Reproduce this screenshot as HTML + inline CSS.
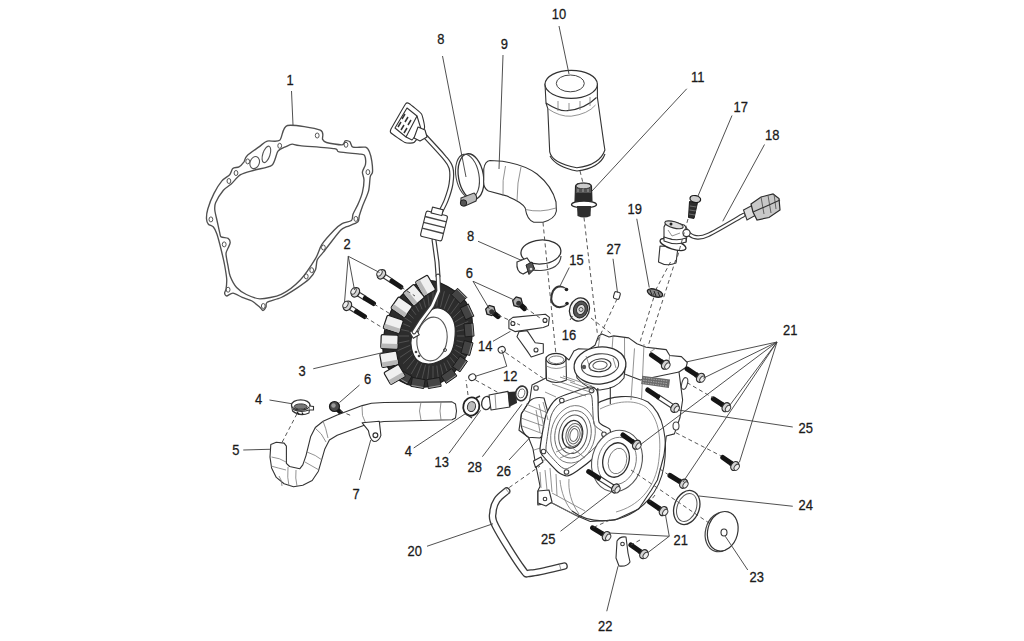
<!DOCTYPE html>
<html><head><meta charset="utf-8"><style>html,body{margin:0;padding:0;background:#fff;width:1024px;height:641px;overflow:hidden}svg{display:block}</style></head><body>
<svg width="1024" height="641" viewBox="0 0 1024 641">
<style>
.l{stroke:#3c3c3c;stroke-width:0.9;fill:none}
.d{stroke:#444;stroke-width:0.9;fill:none;stroke-dasharray:4 3}
.p{stroke:#333;stroke-width:1.1;fill:#fff;stroke-linejoin:round}
.q{stroke:#333;stroke-width:1.1;fill:none;stroke-linejoin:round}
.g{stroke:#777;stroke-width:0.8;fill:none}
.k{stroke:#505050;stroke-width:1.35;fill:none;stroke-linejoin:round}
.t{font-family:"Liberation Sans",sans-serif;font-size:15.4px;fill:#1a1a1a;stroke:#1a1a1a;stroke-width:0.3px}
</style>
<rect width="1024" height="641" fill="#fff"/>
<path class="k" d="M287.5,125.5 C292.9,124.2 315.6,128.3 320.3,130.2 C325.0,132.1 321.8,137.8 322.6,139.4 C323.4,141.0 323.9,141.8 326.5,142.5 C329.1,143.2 339.6,145.0 342.1,144.8 C344.6,144.6 344.2,141.3 345.2,140.9 C346.2,140.5 348.9,140.9 349.9,141.7 C350.9,142.5 350.9,146.5 353.0,147.2 C355.1,147.9 363.3,146.6 365.5,147.2 C367.7,147.8 368.6,149.9 369.4,151.8 C370.2,153.7 371.4,158.5 371.8,161.2 C372.2,163.9 372.7,170.0 372.5,172.1 C372.3,174.2 370.7,174.3 370.2,176.8 C369.7,179.3 369.6,186.9 368.6,190.8 C367.6,194.7 363.6,203.1 362.4,206.4 C361.2,209.7 359.9,213.7 359.3,215.8 C358.7,217.9 359.4,220.5 357.7,222.0 C356.0,223.5 349.1,225.6 346.8,226.7 C344.5,227.8 343.1,227.7 340.6,230.3 C338.1,232.9 330.4,243.1 328.1,246.0 C325.8,248.9 324.9,250.3 323.4,252.2 C321.9,254.1 318.2,257.7 317.2,260.0 C316.2,262.3 316.6,266.9 315.6,269.4 C314.6,271.9 311.9,276.3 309.4,278.8 C306.9,281.2 300.7,285.6 296.9,288.1 C293.1,290.6 285.2,295.6 281.2,297.5 C277.3,299.4 269.2,300.9 267.2,302.2 C265.2,303.5 266.6,305.9 266.0,307.0 C265.4,308.1 263.9,310.5 263.0,310.5 C262.1,310.5 261.1,308.3 259.6,307.0 C258.1,305.7 254.3,302.3 252.0,301.0 C249.7,299.7 244.7,298.5 242.2,297.4 C239.7,296.3 235.1,293.3 233.0,293.1 C230.9,292.9 227.8,296.0 226.7,296.0 C225.6,296.0 224.7,294.0 224.6,293.1 C224.5,292.2 225.7,290.9 226.0,289.0 C226.3,287.1 226.9,282.2 226.7,279.0 C226.5,275.8 225.3,268.9 224.6,265.0 C223.9,261.1 222.1,253.6 221.1,249.5 C220.1,245.4 217.9,237.0 216.9,234.0 C215.9,231.0 214.5,228.3 213.4,227.0 C212.3,225.7 209.3,225.3 208.4,224.2 C207.5,223.1 206.6,221.0 206.5,219.0 C206.4,217.0 206.8,212.4 207.8,209.0 C208.8,205.6 212.1,197.1 214.0,193.4 C215.9,189.7 219.8,183.4 221.9,180.9 C224.0,178.4 228.2,176.4 229.7,174.7 C231.2,173.0 231.6,169.4 232.8,168.4 C234.0,167.4 237.5,167.7 239.0,166.9 C240.5,166.1 242.7,163.7 243.8,162.2 C244.8,160.7 244.8,158.0 246.9,155.9 C249.0,153.8 256.7,148.6 259.4,146.6 C262.1,144.6 264.5,141.9 267.2,141.1 C269.9,140.3 277.0,142.4 279.7,140.3 C282.4,138.2 282.1,126.8 287.5,125.5 Z"/>
<path class="k" d="M292.2,144.2 C294.1,144.1 294.4,145.0 300.0,145.6 C305.6,146.2 329.1,147.9 334.3,148.7 C339.5,149.5 335.5,151.1 339.0,151.8 C342.5,152.5 357.4,153.7 360.8,154.2 C364.2,154.7 364.1,154.4 364.7,155.7 C365.3,157.0 365.8,162.1 365.5,164.3 C365.2,166.5 362.6,170.0 362.4,172.1 C362.2,174.2 364.0,177.2 364.0,179.9 C364.0,182.6 363.2,189.1 362.4,192.4 C361.6,195.7 359.0,202.0 357.7,204.9 C356.4,207.8 353.8,212.1 353.0,214.2 C352.2,216.3 353.0,219.2 351.5,220.5 C350.0,221.8 344.4,222.3 342.1,223.6 C339.8,224.9 337.0,227.2 334.3,230.0 C331.6,232.8 324.4,240.6 321.9,244.4 C319.4,248.2 318.5,253.6 315.6,258.4 C312.7,263.2 304.6,275.5 300.0,280.3 C295.4,285.1 286.6,291.9 281.2,294.4 C275.9,296.9 264.6,298.8 260.0,298.8 C255.4,298.8 249.5,296.0 246.4,294.5 C243.3,293.0 238.8,289.9 236.6,287.5 C234.4,285.1 231.3,279.1 230.2,276.3 C229.1,273.5 228.7,269.4 228.1,266.4 C227.5,263.4 226.0,256.2 226.0,253.8 C226.0,251.4 227.5,249.6 228.1,248.1 C228.7,246.6 230.2,243.8 230.2,242.5 C230.2,241.2 229.3,239.0 228.1,238.3 C226.9,237.6 222.2,237.6 221.1,236.9 C220.0,236.2 220.3,235.0 219.7,232.7 C219.1,230.4 217.6,223.0 216.9,220.0 C216.2,217.0 215.0,212.3 214.8,210.0 C214.6,207.7 214.5,205.4 215.6,202.8 C216.7,200.2 221.3,192.8 223.4,190.3 C225.5,187.8 229.0,186.1 231.2,184.0 C233.5,181.9 237.5,176.6 240.6,174.7 C243.7,172.8 250.5,171.3 254.7,170.0 C258.9,168.7 268.8,167.8 271.9,165.3 C275.0,162.8 276.1,153.7 278.0,151.2 C279.9,148.8 284.1,147.5 286.0,146.6 C287.9,145.7 290.3,144.3 292.2,144.2 Z"/>
<ellipse cx="317.2" cy="135.5" rx="1.9" ry="2.5" fill="none" stroke="#555" stroke-width="1"/>
<ellipse cx="346" cy="144.8" rx="1.9" ry="2.5" fill="none" stroke="#555" stroke-width="1"/>
<ellipse cx="367.9" cy="172.1" rx="1.9" ry="2.5" fill="none" stroke="#555" stroke-width="1"/>
<ellipse cx="355.85" cy="218.9" rx="1.9" ry="2.5" fill="none" stroke="#555" stroke-width="1"/>
<ellipse cx="279.7" cy="145.8" rx="1.9" ry="2.5" fill="none" stroke="#555" stroke-width="1"/>
<ellipse cx="247.7" cy="161.4" rx="1.9" ry="2.5" fill="none" stroke="#555" stroke-width="1"/>
<ellipse cx="236" cy="173" rx="1.9" ry="2.5" fill="none" stroke="#555" stroke-width="1"/>
<ellipse cx="228.9" cy="181" rx="1.9" ry="2.5" fill="none" stroke="#555" stroke-width="1"/>
<ellipse cx="210.9" cy="219.4" rx="1.9" ry="2.5" fill="none" stroke="#555" stroke-width="1"/>
<ellipse cx="224.2" cy="244.4" rx="1.9" ry="2.5" fill="none" stroke="#555" stroke-width="1"/>
<ellipse cx="228.1" cy="289.7" rx="1.9" ry="2.5" fill="none" stroke="#555" stroke-width="1"/>
<ellipse cx="263.3" cy="306" rx="1.9" ry="2.5" fill="none" stroke="#555" stroke-width="1"/>
<ellipse cx="306.25" cy="276.4" rx="1.9" ry="2.5" fill="none" stroke="#555" stroke-width="1"/>
<ellipse cx="311.7" cy="270.2" rx="1.9" ry="2.5" fill="none" stroke="#555" stroke-width="1"/>
<ellipse cx="323.4" cy="247.5" rx="1.9" ry="2.5" fill="none" stroke="#555" stroke-width="1"/>
<ellipse cx="254.7" cy="162.6" rx="4.6" ry="6.2" fill="none" stroke="#555" stroke-width="1.1" transform="rotate(20 254.7 162.6)"/>
<ellipse cx="266.4" cy="154.4" rx="3.6" ry="8.6" fill="none" stroke="#555" stroke-width="1.1" transform="rotate(18 266.4 154.4)"/>
<path d="M423.0,134.0 C426.5,137.8 439.3,151.3 444.0,157.0 C448.7,162.7 449.8,163.5 451.0,168.0 C452.2,172.5 451.8,178.4 451.0,183.8 C450.2,189.1 448.2,194.9 446.3,200.0 C444.4,205.1 440.5,211.8 439.3,214.2" fill="none" stroke="#3a3a3a" stroke-width="5" stroke-linejoin="round" stroke-linecap="round"/>
<path d="M423.0,134.0 C426.5,137.8 439.3,151.3 444.0,157.0 C448.7,162.7 449.8,163.5 451.0,168.0 C452.2,172.5 451.8,178.4 451.0,183.8 C450.2,189.1 448.2,194.9 446.3,200.0 C444.4,205.1 440.5,211.8 439.3,214.2" fill="none" stroke="#fff" stroke-width="2.6" stroke-linejoin="round" stroke-linecap="round"/>
<path d="M434.0,240.0 L437.0,262.0 L438.0,276.0" fill="none" stroke="#3a3a3a" stroke-width="5" stroke-linejoin="round" stroke-linecap="round"/>
<path d="M434.0,240.0 L437.0,262.0 L438.0,276.0" fill="none" stroke="#fff" stroke-width="2.6" stroke-linejoin="round" stroke-linecap="round"/>
<path class="p" d="M391.0,129.0 C392.0,127.1 404.3,105.7 405.5,104.0 C406.7,102.3 407.9,102.8 409.0,103.5 C410.1,104.2 420.5,112.4 421.5,114.0 C422.5,115.6 425.0,126.1 424.5,128.0 C424.0,129.9 415.3,141.5 414.0,142.5 C412.7,143.5 406.5,143.1 405.0,142.5 C403.5,141.9 391.9,133.9 391.0,133.0 C390.1,132.1 390.0,130.9 391.0,129.0 Z" stroke-width="1.3"/>
<path class="q" d="M395,128 L407,108 L417,116 L406,137 Z" stroke-width="1"/>
<path d="M398,127 L401,122 M401,130 L404,125 M404,133 L407,128 M402,119 L405,114 M405,122 L408,117 M408,125 L411,120" stroke="#333" stroke-width="1.5"/>
<path class="q" d="M417,116 L421,129 L412,140 L406,137" stroke-width="1"/>
<path class="p" d="M418,127 L425,130 L427,137 L420,141 L414,138 Z" stroke-width="1.1"/>
<g transform="rotate(14 434 226)"><rect x="423" y="213" width="22" height="26" rx="2" class="p"/><path d="M423,219 H445 M423,225 H445 M423,231 H445" stroke="#444" stroke-width="1.4"/><rect x="428" y="208" width="11" height="6" class="p"/></g>
<line x1="391.9" y1="281.1" x2="381.0" y2="274.0" stroke="#333" stroke-width="5.2"/>
<line x1="391.9" y1="281.1" x2="381.0" y2="274.0" stroke="#fff" stroke-width="3.0"/>
<line x1="400.8" y1="287.0" x2="391.9" y2="281.1" stroke="#151515" stroke-width="5.0" stroke-linecap="round"/>
<ellipse cx="381.4" cy="274.3" rx="3.8" ry="5.0" fill="#d4d4d4" stroke="#2a2a2a" stroke-width="1.3" transform="rotate(-146.6 381.4 274.3)"/>
<ellipse cx="379.5" cy="273.0" rx="2.2" ry="3.5" fill="#eee" stroke="#444" stroke-width="1" transform="rotate(-146.6 379.5 273.0)"/>
<line x1="365.2" y1="298.3" x2="355.0" y2="292.0" stroke="#333" stroke-width="5.2"/>
<line x1="365.2" y1="298.3" x2="355.0" y2="292.0" stroke="#fff" stroke-width="3.0"/>
<line x1="373.5" y1="303.5" x2="365.2" y2="298.3" stroke="#151515" stroke-width="5.0" stroke-linecap="round"/>
<ellipse cx="355.4" cy="292.3" rx="3.8" ry="5.0" fill="#d4d4d4" stroke="#2a2a2a" stroke-width="1.3" transform="rotate(-148.1 355.4 292.3)"/>
<ellipse cx="353.5" cy="291.0" rx="2.2" ry="3.5" fill="#eee" stroke="#444" stroke-width="1" transform="rotate(-148.1 353.5 291.0)"/>
<line x1="356.6" y1="311.6" x2="347.0" y2="305.5" stroke="#333" stroke-width="5.2"/>
<line x1="356.6" y1="311.6" x2="347.0" y2="305.5" stroke="#fff" stroke-width="3.0"/>
<line x1="364.5" y1="316.5" x2="356.6" y2="311.6" stroke="#151515" stroke-width="5.0" stroke-linecap="round"/>
<ellipse cx="347.4" cy="305.8" rx="3.8" ry="5.0" fill="#d4d4d4" stroke="#2a2a2a" stroke-width="1.3" transform="rotate(-147.8 347.4 305.8)"/>
<ellipse cx="345.5" cy="304.5" rx="2.2" ry="3.5" fill="#eee" stroke="#444" stroke-width="1" transform="rotate(-147.8 345.5 304.5)"/>
<path d="M430.3,280.7 C434.4,280.7 437.4,281.8 441.5,283.5 C445.6,285.2 450.6,287.9 454.7,291.0 C458.8,294.1 463.1,298.1 465.9,302.2 C468.7,306.2 470.4,310.6 471.5,315.3 C472.6,320.0 472.5,325.3 472.4,330.3 C472.2,335.3 472.0,340.3 470.6,345.3 C469.2,350.3 466.6,355.9 464.0,360.3 C461.4,364.7 458.1,368.1 454.7,371.5 C451.3,374.9 447.5,378.4 443.4,380.9 C439.3,383.4 435.0,385.6 430.3,386.5 C425.6,387.4 420.3,387.4 415.3,386.5 C410.3,385.6 404.7,383.7 400.3,380.9 C395.9,378.1 391.9,373.7 389.1,369.6 C386.3,365.5 384.4,361.8 383.5,356.5 C382.6,351.2 382.9,343.7 383.5,337.8 C384.1,331.9 385.3,326.6 387.2,321.0 C389.1,315.4 391.6,309.1 394.7,304.1 C397.8,299.1 402.2,294.4 406.0,291.0 C409.8,287.6 413.1,285.2 417.2,283.5 C421.2,281.8 426.2,280.7 430.3,280.7 Z" fill="#2c2c2c" stroke="#1a1a1a" stroke-width="1.2"/>
<line x1="457.0" y1="336.0" x2="470.0" y2="336.0" stroke="#555" stroke-width="0.9"/>
<line x1="456.7" y1="340.7" x2="469.5" y2="343.4" stroke="#555" stroke-width="0.9"/>
<line x1="455.8" y1="345.3" x2="468.2" y2="350.5" stroke="#555" stroke-width="0.9"/>
<line x1="454.4" y1="349.6" x2="466.0" y2="357.3" stroke="#555" stroke-width="0.9"/>
<line x1="452.4" y1="353.6" x2="462.9" y2="363.6" stroke="#555" stroke-width="0.9"/>
<line x1="450.0" y1="357.2" x2="459.2" y2="369.2" stroke="#555" stroke-width="0.9"/>
<line x1="447.1" y1="360.3" x2="454.7" y2="374.0" stroke="#555" stroke-width="0.9"/>
<line x1="443.9" y1="362.7" x2="449.8" y2="377.9" stroke="#555" stroke-width="0.9"/>
<line x1="440.4" y1="364.5" x2="444.4" y2="380.7" stroke="#555" stroke-width="0.9"/>
<line x1="436.8" y1="365.6" x2="438.8" y2="382.4" stroke="#555" stroke-width="0.9"/>
<line x1="433.0" y1="366.0" x2="433.0" y2="383.0" stroke="#555" stroke-width="0.9"/>
<line x1="429.2" y1="365.6" x2="427.2" y2="382.4" stroke="#555" stroke-width="0.9"/>
<line x1="425.6" y1="364.5" x2="421.6" y2="380.7" stroke="#555" stroke-width="0.9"/>
<line x1="422.1" y1="362.7" x2="416.2" y2="377.9" stroke="#555" stroke-width="0.9"/>
<line x1="418.9" y1="360.3" x2="411.3" y2="374.0" stroke="#555" stroke-width="0.9"/>
<line x1="416.0" y1="357.2" x2="406.8" y2="369.2" stroke="#555" stroke-width="0.9"/>
<line x1="413.6" y1="353.6" x2="403.1" y2="363.6" stroke="#555" stroke-width="0.9"/>
<line x1="411.6" y1="349.6" x2="400.0" y2="357.3" stroke="#555" stroke-width="0.9"/>
<line x1="410.2" y1="345.3" x2="397.8" y2="350.5" stroke="#555" stroke-width="0.9"/>
<line x1="409.3" y1="340.7" x2="396.5" y2="343.4" stroke="#555" stroke-width="0.9"/>
<line x1="409.0" y1="336.0" x2="396.0" y2="336.0" stroke="#555" stroke-width="0.9"/>
<line x1="409.3" y1="331.3" x2="396.5" y2="328.6" stroke="#555" stroke-width="0.9"/>
<line x1="410.2" y1="326.7" x2="397.8" y2="321.5" stroke="#555" stroke-width="0.9"/>
<line x1="411.6" y1="322.4" x2="400.0" y2="314.7" stroke="#555" stroke-width="0.9"/>
<line x1="413.6" y1="318.4" x2="403.1" y2="308.4" stroke="#555" stroke-width="0.9"/>
<line x1="416.0" y1="314.8" x2="406.8" y2="302.8" stroke="#555" stroke-width="0.9"/>
<line x1="418.9" y1="311.7" x2="411.3" y2="298.0" stroke="#555" stroke-width="0.9"/>
<line x1="422.1" y1="309.3" x2="416.2" y2="294.1" stroke="#555" stroke-width="0.9"/>
<line x1="425.6" y1="307.5" x2="421.6" y2="291.3" stroke="#555" stroke-width="0.9"/>
<line x1="429.2" y1="306.4" x2="427.2" y2="289.6" stroke="#555" stroke-width="0.9"/>
<line x1="433.0" y1="306.0" x2="433.0" y2="289.0" stroke="#555" stroke-width="0.9"/>
<line x1="436.8" y1="306.4" x2="438.8" y2="289.6" stroke="#555" stroke-width="0.9"/>
<line x1="440.4" y1="307.5" x2="444.4" y2="291.3" stroke="#555" stroke-width="0.9"/>
<line x1="443.9" y1="309.3" x2="449.8" y2="294.1" stroke="#555" stroke-width="0.9"/>
<line x1="447.1" y1="311.7" x2="454.7" y2="298.0" stroke="#555" stroke-width="0.9"/>
<line x1="450.0" y1="314.8" x2="459.2" y2="302.8" stroke="#555" stroke-width="0.9"/>
<line x1="452.4" y1="318.4" x2="462.9" y2="308.4" stroke="#555" stroke-width="0.9"/>
<line x1="454.4" y1="322.4" x2="466.0" y2="314.7" stroke="#555" stroke-width="0.9"/>
<line x1="455.8" y1="326.7" x2="468.2" y2="321.5" stroke="#555" stroke-width="0.9"/>
<line x1="456.7" y1="331.3" x2="469.5" y2="328.6" stroke="#555" stroke-width="0.9"/>
<g transform="rotate(45 459 296)"><rect x="452.5" y="291.5" width="13" height="9" fill="#444" stroke="#1a1a1a" stroke-width="0.9"/><line x1="453" y1="292.5" x2="465" y2="292.5" stroke="#999" stroke-width="0.9"/></g>
<g transform="rotate(65 467 312)"><rect x="460.5" y="307.5" width="13" height="9" fill="#444" stroke="#1a1a1a" stroke-width="0.9"/><line x1="461" y1="308.5" x2="473" y2="308.5" stroke="#999" stroke-width="0.9"/></g>
<g transform="rotate(85 469 330)"><rect x="462.5" y="325.5" width="13" height="9" fill="#444" stroke="#1a1a1a" stroke-width="0.9"/><line x1="463" y1="326.5" x2="475" y2="326.5" stroke="#999" stroke-width="0.9"/></g>
<g transform="rotate(105 467 348)"><rect x="460.5" y="343.5" width="13" height="9" fill="#444" stroke="#1a1a1a" stroke-width="0.9"/><line x1="461" y1="344.5" x2="473" y2="344.5" stroke="#999" stroke-width="0.9"/></g>
<g transform="rotate(125 460 364)"><rect x="453.5" y="359.5" width="13" height="9" fill="#444" stroke="#1a1a1a" stroke-width="0.9"/><line x1="454" y1="360.5" x2="466" y2="360.5" stroke="#999" stroke-width="0.9"/></g>
<g transform="rotate(145 449 376)"><rect x="442.5" y="371.5" width="13" height="9" fill="#444" stroke="#1a1a1a" stroke-width="0.9"/><line x1="443" y1="372.5" x2="455" y2="372.5" stroke="#999" stroke-width="0.9"/></g>
<g transform="rotate(170 434 383)"><rect x="427.5" y="378.5" width="13" height="9" fill="#444" stroke="#1a1a1a" stroke-width="0.9"/><line x1="428" y1="379.5" x2="440" y2="379.5" stroke="#999" stroke-width="0.9"/></g>
<g transform="rotate(190 418 383)"><rect x="411.5" y="378.5" width="13" height="9" fill="#444" stroke="#1a1a1a" stroke-width="0.9"/><line x1="412" y1="379.5" x2="424" y2="379.5" stroke="#999" stroke-width="0.9"/></g>
<g transform="rotate(210 404 377)"><rect x="397.5" y="372.5" width="13" height="9" fill="#444" stroke="#1a1a1a" stroke-width="0.9"/><line x1="398" y1="373.5" x2="410" y2="373.5" stroke="#999" stroke-width="0.9"/></g>
<g transform="rotate(60 425.5 285.8)"><rect x="417.0" y="278.8" width="17" height="14" rx="1.5" fill="#f0f0f0" stroke="#1e1e1e" stroke-width="1.2"/><rect x="417.5" y="287.8" width="16" height="4.5" fill="#b8b8b8"/></g>
<g transform="rotate(50 413.8 295.2)"><rect x="405.3" y="288.2" width="17" height="14" rx="1.5" fill="#f0f0f0" stroke="#1e1e1e" stroke-width="1.2"/><rect x="405.8" y="297.2" width="16" height="4.5" fill="#b8b8b8"/></g>
<g transform="rotate(35 401.6 307.3)"><rect x="393.1" y="300.3" width="17" height="14" rx="1.5" fill="#f0f0f0" stroke="#1e1e1e" stroke-width="1.2"/><rect x="393.6" y="309.3" width="16" height="4.5" fill="#b8b8b8"/></g>
<g transform="rotate(18 393.3 324.3)"><rect x="384.8" y="317.3" width="17" height="14" rx="1.5" fill="#f0f0f0" stroke="#1e1e1e" stroke-width="1.2"/><rect x="385.3" y="326.3" width="16" height="4.5" fill="#b8b8b8"/></g>
<g transform="rotate(2 389.5 341.8)"><rect x="381.0" y="334.8" width="17" height="14" rx="1.5" fill="#f0f0f0" stroke="#1e1e1e" stroke-width="1.2"/><rect x="381.5" y="343.8" width="16" height="4.5" fill="#b8b8b8"/></g>
<g transform="rotate(-10 389.2 359.2)"><rect x="380.7" y="352.2" width="17" height="14" rx="1.5" fill="#f0f0f0" stroke="#1e1e1e" stroke-width="1.2"/><rect x="381.2" y="361.2" width="16" height="4.5" fill="#b8b8b8"/></g>
<g transform="rotate(-30 394.6 374.5)"><rect x="386.1" y="367.5" width="17" height="14" rx="1.5" fill="#f0f0f0" stroke="#1e1e1e" stroke-width="1.2"/><rect x="386.6" y="376.5" width="16" height="4.5" fill="#b8b8b8"/></g>
<path d="M437.8,307.8 C441.5,308.0 446.2,310.7 449.0,313.5 C451.8,316.3 453.8,320.3 454.7,324.7 C455.6,329.1 455.3,335.0 454.7,339.7 C454.1,344.4 453.1,349.4 450.9,352.8 C448.7,356.2 445.2,358.4 441.5,360.3 C437.8,362.2 432.4,364.0 428.4,364.0 C424.3,364.0 420.0,362.8 417.2,360.3 C414.4,357.8 412.5,353.1 411.6,349.0 C410.7,344.9 410.7,340.3 411.6,335.9 C412.5,331.5 414.7,326.7 417.2,322.8 C419.7,318.9 423.2,315.0 426.6,312.5 C430.0,310.0 434.1,307.6 437.8,307.8 Z" fill="#fff" stroke="#2a2a2a" stroke-width="1.2"/>
<ellipse cx="432" cy="339" rx="15" ry="22" fill="none" stroke="#555" stroke-width="1.1" transform="rotate(8 432 339)"/>
<circle cx="416" cy="352" r="1.3" fill="#444"/><circle cx="419" cy="356" r="1.3" fill="#444"/><circle cx="445" cy="350" r="1.5" fill="none" stroke="#444"/>
<rect x="411" y="330" width="7" height="7" fill="#fff" stroke="#333" stroke-width="1" transform="rotate(-30 414.5 333.5)"/>
<path d="M438.0,276.0 L438.7,291.0 L432.2,306.0 L421.0,321.0 L414.0,332.0" fill="none" stroke="#3a3a3a" stroke-width="4.8" stroke-linejoin="round" stroke-linecap="round"/>
<path d="M438.0,276.0 L438.7,291.0 L432.2,306.0 L421.0,321.0 L414.0,332.0" fill="none" stroke="#fff" stroke-width="2.6" stroke-linejoin="round" stroke-linecap="round"/>
<ellipse cx="471" cy="176.5" rx="12.5" ry="23" fill="none" stroke="#333" stroke-width="1.3" transform="rotate(-10 471 176.5)"/>
<ellipse cx="467.5" cy="176" rx="11.5" ry="22" fill="none" stroke="#444" stroke-width="1.1" transform="rotate(-10 467.5 176)"/>
<path d="M461,198 L474,193 Q478,196 476,201 L465,206 Q460,204 461,198 Z" fill="#bbb" stroke="#333" stroke-width="1.1"/>
<circle cx="463.5" cy="203" r="3.2" fill="#555" stroke="#222" stroke-width="1"/>
<path class="p" d="M490,160.5 L502.5,161.25 Q525,165 537,174 Q552,186 556,202 L556.4,211 Q555,219 543,222.2 L533.75,222.2 Q527,220 525.2,208 Q522,202 505.6,195.6 L488.4,191 Q483,188 483.75,180 L483.75,169 Q485,161 490,160.5 Z"/>
<path class="g" d="M505.5,166 Q502,180 503,196 M521,167 Q517,182 517,201 M525.5,209.5 Q540,213 556,208"/>
<path class="p" d="M545,84 L546,103 L547.8,108.7 L549.7,151.8 Q552,163 576.8,167.7 Q600,165 604.9,150 L604,144.3 L597.4,97.5 L597.4,84 Z"/>
<ellipse cx="571.2" cy="84.3" rx="26.2" ry="14" fill="#fff" stroke="#333" stroke-width="1.2"/>
<ellipse cx="570.3" cy="83.4" rx="14" ry="8.4" fill="none" stroke="#444" stroke-width="1"/>
<path class="q" d="M545.9,103 Q560,112 567.5,110.6 Q585,109 596.5,97.5"/>
<path class="g" d="M547.8,108.7 Q560,117 571.2,116.2 Q588,114 595.5,105"/>
<path class="g" d="M558,101 V111 M569,103 V111 M580,101 V110 M590,97 V106"/>
<path class="q" d="M550,156 Q556,167 577,171 Q600,168 605,154"/>
<path d="M575.5,186 Q576,183 583.5,183 Q591,183 591.5,186 L592,202 L575,202 Z" fill="#555" stroke="#222" stroke-width="1.1"/>
<path d="M575.5,193 L592,193 L592,202 L575,202 Z" fill="#2a2a2a"/>
<ellipse cx="583.5" cy="186" rx="7.5" ry="2.8" fill="#ccc" stroke="#333" stroke-width="0.9"/>
<path d="M578,189 V192 M583,189 V192 M588,189 V192" stroke="#aaa" stroke-width="0.9"/>
<ellipse cx="584" cy="204.5" rx="12.5" ry="3.4" fill="#fff" stroke="#2a2a2a" stroke-width="1.3"/>
<path d="M577,206 L591,206 L590.5,216 Q584,219 577.5,216 Z" fill="#2e2e2e"/>
<ellipse cx="540.9" cy="252" rx="20" ry="12" fill="none" stroke="#333" stroke-width="1.3" transform="rotate(-4 540.9 252)"/>
<path d="M521,259 Q522,271 541,270.5 Q560,269 561,256" fill="none" stroke="#444" stroke-width="1.2"/>
<path d="M517,262 L527,258 L534,268 L523,274 Q516,272 517,262 Z" fill="#fff" stroke="#333" stroke-width="1.2"/>
<path d="M526,265 L532,262 L534.5,269 L529,274.5 Z" fill="#555" stroke="#222" stroke-width="1"/>
<circle cx="531" cy="269" r="1.3" fill="#ddd"/>
<path d="M566,289 Q558,283 553,291 Q549,300 554,305 Q560,310 567,304" fill="none" stroke="#333" stroke-width="2"/>
<path d="M566,289 Q558,286 555,292 Q552,300 556,303 Q561,307 567,304" fill="none" stroke="#fff" stroke-width="0.8"/>
<circle cx="566.5" cy="289.5" r="1.8" fill="#222"/><circle cx="567" cy="303.5" r="1.8" fill="#222"/>
<ellipse cx="579.5" cy="309.5" rx="9.8" ry="11.8" fill="#f4f4f4" stroke="#2a2a2a" stroke-width="1.3" transform="rotate(20 579.5 309.5)"/>
<ellipse cx="580.5" cy="309.5" rx="7" ry="8.6" fill="#555" stroke="#222" stroke-width="1" transform="rotate(20 580.5 309.5)"/>
<ellipse cx="580.8" cy="309.5" rx="4.2" ry="5.2" fill="#ddd" stroke="#333" stroke-width="1" transform="rotate(20 580.8 309.5)"/>
<circle cx="581" cy="309.5" r="2" fill="none" stroke="#444" stroke-width="0.9"/>
<rect x="614" y="292" width="6" height="7" rx="1.5" fill="#fff" stroke="#333" stroke-width="1.1" transform="rotate(15 617 295)"/>
<ellipse cx="655" cy="293" rx="8" ry="3.6" fill="#888" stroke="#222" stroke-width="1.3" transform="rotate(18 655 293)"/>
<path d="M650,290 L652,295 M654,291 L656,296 M658,292 L660,297" stroke="#222" stroke-width="1"/>
<path d="M686.4,232.0 C687.8,232.8 691.2,236.5 694.8,237.0 C698.4,237.5 699.9,238.7 708.0,235.0 C716.1,231.3 737.6,218.3 743.5,215.0" fill="none" stroke="#3a3a3a" stroke-width="4.4" stroke-linejoin="round" stroke-linecap="round"/>
<path d="M686.4,232.0 C687.8,232.8 691.2,236.5 694.8,237.0 C698.4,237.5 699.9,238.7 708.0,235.0 C716.1,231.3 737.6,218.3 743.5,215.0" fill="none" stroke="#fff" stroke-width="2.2" stroke-linejoin="round" stroke-linecap="round"/>
<path class="p" d="M660,246 L658.5,262 Q667,267 676,263 L678,247 Z" stroke-width="1.2"/>
<path class="p" d="M664,227 Q666,221 674,222 L684,225 Q688,228 687.4,233 L686,242 Q676,246 664,241 Z" stroke-width="1.2"/>
<ellipse cx="673" cy="244.5" rx="13.5" ry="4.6" fill="#fff" stroke="#2a2a2a" stroke-width="1.3" transform="rotate(18 673 244.5)"/>
<path class="p" d="M664,241 Q676,246 686,242 L686,238 Q676,242 664,237 Z" stroke-width="1"/>
<ellipse cx="674" cy="224.8" rx="9.5" ry="3.2" fill="#ddd" stroke="#333" stroke-width="1.1" transform="rotate(15 674 224.8)"/>
<circle cx="671" cy="224" r="1.5" fill="#222"/>
<path class="g" d="M668,230 L672,236 L680,233"/>
<circle cx="686.5" cy="233" r="3.6" fill="#fff" stroke="#333" stroke-width="1.1"/>
<path d="M743.5,210 L752,205.5 L756,215 L747,220 Z" fill="#ddd" stroke="#333" stroke-width="1.1"/>
<path d="M751,204 L761,197 L773,194 L779,198.5 L780,210 L769,217.5 L757,220 L753,212 Z" fill="#c8c8c8" stroke="#2a2a2a" stroke-width="1.2"/>
<path d="M761,197 L764,214 M768,195.5 L771,213 M774,194 L776,209" stroke="#555" stroke-width="0.9"/>
<path class="q" d="M753,212 L769,205 L780,200"/>
<path d="M689.5,201.5 L697.5,202.5 L694,218.4 L688.5,217.5 Z" fill="#2e2e2e" stroke="#1a1a1a" stroke-width="1"/>
<path d="M690,206 L696.5,207 M689.5,210 L696,211 M689,214 L695,215" stroke="#888" stroke-width="0.7"/>
<ellipse cx="695.3" cy="199" rx="5.4" ry="3.4" fill="#ccc" stroke="#1a1a1a" stroke-width="1.2" transform="rotate(12 695.3 199)"/>
<path class="p" d="M546.0,361.0 L552.7,354.8 L564.9,356.8 L569.0,360.0 L573.9,351.1 L578.6,348.8 L589.1,349.3 L595.0,345.2 L598.5,335.9 L602.0,334.1 L609.0,337.0 L613.8,335.9 L628.7,337.9 L636.9,343.8 L646.2,347.3 L655.6,348.4 L666.2,349.6 L669.7,355.5 L681.4,356.6 L687.3,362.5 L686.1,367.2 L679.0,372.0 L682.6,400.0 L680.0,417.5 L674.4,433.9 L666.3,436.0 L664.0,455.0 L657.4,480.0 L651.2,490.3 L638.7,509.0 L615.0,520.0 L590.3,521.5 L576.2,515.6 L551.6,502.7 L537.8,505.0 L537.8,491.0 L540.1,486.3 L535.4,463.0 L533.0,448.9 L528.4,437.2 L519.0,430.2 L521.4,413.8 L529.6,401.0 L532.0,385.0 L540.0,381.0 L546.0,378.0 Z" stroke-width="1.2"/>
<path class="q" d="M596,404 C610,396 632,393 648,402 C664,414 668,440 664,466 C660,492 642,512 618,519 C600,523 584,520 572,511"/>
<path class="g" d="M600,409 C616,401 634,399 646,407 C660,419 662,442 658,466 C653,490 638,506 616,512"/>
<path class="g" d="M569,479 C568,490 571,503 579,514 M560,480 C561,492 566,505 572,511"/>
<path class="q" d="M625.2,374.2 L640.4,380 L679,372"/>
<path class="g" d="M624.5,338 L624.7,374 M634.5,348.4 L631,400 M644,344 L641.5,400 M613,336 L612,350 M600,336 L598,349 M655.6,348.4 L650,352 M669.7,355.5 L668,368"/>
<ellipse cx="684.6" cy="383.5" rx="2.8" ry="6" fill="#fff" stroke="#444" stroke-width="1.1" transform="rotate(15 684.6 383.5)"/>
<ellipse cx="676" cy="426" rx="3" ry="4" fill="#fff" stroke="#444" stroke-width="1.1"/>
<path class="p" d="M576,368 L577,378 Q588,390 600,390 Q616,389 624,378 L625,368 Z"/>
<path class="q" d="M597.8,388 L597.8,406 M610.3,387 L610.3,404"/>
<ellipse cx="600" cy="365.5" rx="26" ry="18.5" fill="#fff" stroke="#2e2e2e" stroke-width="1.3" transform="rotate(-6 600 365.5)"/>
<ellipse cx="600" cy="365.3" rx="18.7" ry="11.5" fill="none" stroke="#444" stroke-width="1.1" transform="rotate(-6 600 365.3)"/>
<ellipse cx="600" cy="365.3" rx="11" ry="6.4" fill="none" stroke="#333" stroke-width="1.1" transform="rotate(-6 600 365.3)"/>
<ellipse cx="600" cy="365.3" rx="7.2" ry="4" fill="none" stroke="#555" stroke-width="1" transform="rotate(-6 600 365.3)"/>
<circle cx="584" cy="367" r="2.2" fill="#555"/>
<path class="g" d="M586,356 L591,371 M613,358 L616,368"/>
<path class="p" d="M546,359 L546.6,380 Q556,385 566.5,380 L566,359 Z" stroke-width="1.2"/>
<ellipse cx="556" cy="359" rx="10" ry="5.6" fill="#fff" stroke="#2e2e2e" stroke-width="1.3"/>
<ellipse cx="556.3" cy="359.8" rx="7.6" ry="3.8" fill="none" stroke="#666" stroke-width="0.9"/>
<path class="g" d="M546.3,366 Q556,371 566.2,366"/>
<path class="q" d="M529.6,401 Q535,396 544,398 L550,420 Q548,432 540,438 L528.4,437.2 Q519,432 521.4,413.8 Z"/>
<path class="g" d="M523,410 L548,420 M521,418 L549,428 M522,426 L546,435 M526,404 L548,413 M534,450 L550,445 M536,462 L553,458 M560,377 L575,382"/>
<path d="M557.0,398.4 C561.4,395.6 586.0,387.8 590.0,387.0 C594.0,386.2 595.8,389.0 596.6,390.0 C597.4,391.0 597.8,393.8 598.0,397.0 C598.2,400.2 597.8,418.7 599.0,422.0 C600.2,425.3 609.0,427.6 610.0,429.6 C611.0,431.6 610.8,439.4 609.4,442.0 C608.0,444.6 599.2,453.1 596.0,456.0 C592.8,458.9 579.9,469.0 577.0,471.0 C574.1,473.0 568.9,475.9 567.0,476.0 C565.1,476.1 560.4,474.0 558.0,472.0 C555.6,470.0 544.8,458.3 543.0,456.0 C541.2,453.7 539.7,453.1 540.0,449.0 C540.3,444.9 544.3,420.1 546.0,415.0 C547.7,409.9 552.6,401.2 557.0,398.4 Z" fill="#fff" stroke="#2e2e2e" stroke-width="1.2"/>
<path d="M560.0,403.5 C563.7,401.3 584.8,394.6 588.0,394.0 C591.2,393.4 591.4,395.0 592.0,398.0 C592.6,401.0 592.9,420.6 594.0,424.0 C595.1,427.4 602.2,430.4 603.0,432.0 C603.8,433.6 603.3,438.0 602.0,440.0 C600.7,442.0 592.8,449.5 590.0,452.0 C587.2,454.5 576.4,463.3 574.0,465.0 C571.6,466.7 567.4,468.9 566.0,469.0 C564.6,469.1 561.8,467.6 560.0,466.0 C558.2,464.4 549.4,454.9 548.0,453.0 C546.6,451.1 545.7,450.7 546.0,447.0 C546.3,443.3 549.6,420.4 551.0,416.0 C552.4,411.6 556.3,405.7 560.0,403.5 Z" fill="none" stroke="#555" stroke-width="1"/>
<circle cx="561.8" cy="400.5" r="2.3" fill="#fff" stroke="#444" stroke-width="1.1"/>
<circle cx="591.5" cy="390.6" r="2.3" fill="#fff" stroke="#444" stroke-width="1.1"/>
<circle cx="604" cy="434.3" r="2.3" fill="#fff" stroke="#444" stroke-width="1.1"/>
<circle cx="543.5" cy="451.5" r="2.3" fill="#fff" stroke="#444" stroke-width="1.1"/>
<circle cx="566.5" cy="472" r="2.3" fill="#fff" stroke="#444" stroke-width="1.1"/>
<circle cx="536" cy="388" r="2.3" fill="#fff" stroke="#444" stroke-width="1.1"/>
<path class="g" d="M548,378 L590,392 M552,384 L586,396 M563,376 L592,386 M545,392 L556,397 M543,402 L548,420 M539,404 L544,428 M536,410 L540,432 M570,382 L595,391"/>
<ellipse cx="573" cy="434.3" rx="22" ry="29" fill="none" stroke="#777" stroke-width="0.9" transform="rotate(12 573 434.3)"/>
<ellipse cx="573" cy="434.3" rx="18" ry="24" fill="none" stroke="#666" stroke-width="0.9" transform="rotate(12 573 434.3)"/>
<ellipse cx="573" cy="434.3" rx="14" ry="19.5" fill="none" stroke="#555" stroke-width="1.0" transform="rotate(12 573 434.3)"/>
<ellipse cx="572.5" cy="434.3" rx="10" ry="14" fill="#fff" stroke="#2e2e2e" stroke-width="1.3" transform="rotate(12 572.5 434.3)"/>
<ellipse cx="574" cy="435" rx="8" ry="11.5" fill="none" stroke="#666" stroke-width="1" transform="rotate(12 574 435)"/>
<ellipse cx="574" cy="435" rx="6" ry="9" fill="none" stroke="#666" stroke-width="1" transform="rotate(12 574 435)"/>
<ellipse cx="574" cy="435" rx="4" ry="6.5" fill="none" stroke="#666" stroke-width="1" transform="rotate(12 574 435)"/>
<path class="g" d="M556,452 L570,446 L585,458 M560,458 L574,452"/>
<ellipse cx="617" cy="461" rx="25" ry="31" fill="#fff" stroke="#555" stroke-width="1.1" transform="rotate(15 617 461)"/>
<ellipse cx="617" cy="461" rx="19" ry="24" fill="none" stroke="#777" stroke-width="0.9" transform="rotate(15 617 461)"/>
<ellipse cx="616" cy="460" rx="13" ry="17.5" fill="#fff" stroke="#2e2e2e" stroke-width="1.3" transform="rotate(15 616 460)"/>
<ellipse cx="617.5" cy="461" rx="9" ry="13" fill="none" stroke="#777" stroke-width="0.9" transform="rotate(15 617.5 461)"/>
<path class="p" d="M533.5,461 L541,457 L543,462 L535.5,467.5 Z"/>
<path class="p" d="M538,491 L549,490 L552,502 L546,506 L538,503 Z"/>
<circle cx="545" cy="499" r="1.8" class="q"/>
<path class="g" d="M551.6,502.7 L576.25,515.6 M552,493 L585,511 M545,470 L547,490 M550,468 L552,492 M556,474 L557,496 M540,472 L541,488"/>
<g transform="rotate(8 655.6 381.8)"><rect x="641.6" y="377.6" width="28" height="8.4" fill="#6a6a6a"/><path d="M643,379.5 H668 M643,382 H668 M643,384.5 H668" stroke="#c0c0c0" stroke-width="0.7" stroke-dasharray="1.5 1"/></g>
<line x1="660.9" y1="361.5" x2="665.9" y2="365.0" stroke="#333" stroke-width="5.2"/>
<line x1="660.9" y1="361.5" x2="665.9" y2="365.0" stroke="#fff" stroke-width="3.0"/>
<line x1="651.5" y1="355.0" x2="660.9" y2="361.5" stroke="#151515" stroke-width="5.0" stroke-linecap="round"/>
<ellipse cx="665.5" cy="364.7" rx="3.6" ry="4.8" fill="#d4d4d4" stroke="#2a2a2a" stroke-width="1.3" transform="rotate(34.8 665.5 364.7)"/>
<ellipse cx="667.4" cy="366.0" rx="2.2" ry="3.4" fill="#eee" stroke="#444" stroke-width="1" transform="rotate(34.8 667.4 366.0)"/>
<line x1="657.6" y1="396.5" x2="675.2" y2="408.1" stroke="#333" stroke-width="5.2"/>
<line x1="657.6" y1="396.5" x2="675.2" y2="408.1" stroke="#fff" stroke-width="3.0"/>
<line x1="647.8" y1="390.0" x2="657.6" y2="396.5" stroke="#151515" stroke-width="5.0" stroke-linecap="round"/>
<ellipse cx="674.8" cy="407.8" rx="3.6" ry="4.8" fill="#d4d4d4" stroke="#2a2a2a" stroke-width="1.3" transform="rotate(33.4 674.8 407.8)"/>
<ellipse cx="676.8" cy="409.1" rx="2.2" ry="3.4" fill="#eee" stroke="#444" stroke-width="1" transform="rotate(33.4 676.8 409.1)"/>
<line x1="631.7" y1="441.2" x2="637.0" y2="445.0" stroke="#333" stroke-width="5.2"/>
<line x1="631.7" y1="441.2" x2="637.0" y2="445.0" stroke="#fff" stroke-width="3.0"/>
<line x1="623.0" y1="435.0" x2="631.7" y2="441.2" stroke="#151515" stroke-width="5.0" stroke-linecap="round"/>
<ellipse cx="636.6" cy="444.7" rx="3.6" ry="4.8" fill="#d4d4d4" stroke="#2a2a2a" stroke-width="1.3" transform="rotate(35.5 636.6 444.7)"/>
<ellipse cx="638.5" cy="446.0" rx="2.2" ry="3.4" fill="#eee" stroke="#444" stroke-width="1" transform="rotate(35.5 638.5 446.0)"/>
<line x1="598.5" y1="477.8" x2="616.0" y2="488.8" stroke="#333" stroke-width="5.2"/>
<line x1="598.5" y1="477.8" x2="616.0" y2="488.8" stroke="#fff" stroke-width="3.0"/>
<line x1="588.7" y1="471.6" x2="598.5" y2="477.8" stroke="#151515" stroke-width="5.0" stroke-linecap="round"/>
<ellipse cx="615.6" cy="488.5" rx="3.6" ry="4.8" fill="#d4d4d4" stroke="#2a2a2a" stroke-width="1.3" transform="rotate(32.1 615.6 488.5)"/>
<ellipse cx="617.5" cy="489.7" rx="2.2" ry="3.4" fill="#eee" stroke="#444" stroke-width="1" transform="rotate(32.1 617.5 489.7)"/>
<line x1="490.5" y1="310.5" x2="498" y2="316.5" stroke="#151515" stroke-width="5.2" stroke-linecap="round"/>
<path d="M495.3,311.9 L491.8,315.6 L487.0,314.2 L485.7,309.1 L489.2,305.4 L494.0,306.8 Z" fill="#b0b0b0" stroke="#1e1e1e" stroke-width="1.3"/>
<circle cx="491.7" cy="311.7" r="2.5" fill="#333"/>
<line x1="517.5" y1="302" x2="524.5" y2="308.5" stroke="#151515" stroke-width="5.2" stroke-linecap="round"/>
<path d="M522.3,303.4 L518.8,307.1 L514.0,305.7 L512.7,300.6 L516.2,296.9 L521.0,298.3 Z" fill="#b0b0b0" stroke="#1e1e1e" stroke-width="1.3"/>
<circle cx="518.7" cy="303.2" r="2.5" fill="#333"/>
<path class="p" d="M508.9,320.4 L512.9,317.4 L545.4,314.3 L549.4,317.4 L548.4,325.5 L543.3,327.5 L529.1,329.6 L514.9,331.6 L508.9,328.5 Z"/>
<path class="p" d="M519,331.6 L527.1,330.6 L535.2,342.7 L543.3,343.75 L543.3,352.9 L531.2,357 L527.1,350.9 L517,336.7 Z"/>
<circle cx="512.9" cy="323.5" r="2" class="q"/><circle cx="545" cy="320.4" r="2" class="q"/><circle cx="536" cy="350" r="2" class="q"/>
<ellipse cx="501.7" cy="349.8" rx="3.6" ry="3.2" class="p" transform="rotate(-30 501.7 349.8)"/>
<ellipse cx="472.3" cy="377.2" rx="3.6" ry="3.2" class="p" transform="rotate(-30 472.3 377.2)"/>
<line x1="335" y1="407" x2="341" y2="413" stroke="#151515" stroke-width="4.5" stroke-linecap="round"/>
<circle cx="334.5" cy="406.5" r="5" fill="#4a4a4a" stroke="#1a1a1a" stroke-width="1.2"/>
<circle cx="333.5" cy="405.5" r="2.2" fill="#999"/>
<path class="p" d="M291.5,405 L292.5,411 Q300,417 309,413 L310,405 Z"/>
<ellipse cx="300.7" cy="405" rx="9.3" ry="5.2" fill="#fff" stroke="#333" stroke-width="1.3"/>
<ellipse cx="300.7" cy="406.5" rx="6.5" ry="2.6" fill="#777" stroke="#333" stroke-width="1"/>
<path d="M293,409.5 Q301,413 309,410" stroke="#333" stroke-width="1.2" fill="none"/>
<path d="M309.5,406 L313.5,406.5 L313.5,410 L309.5,410" fill="#fff" stroke="#333" stroke-width="1.1"/>
<path d="M297,412 L299,414.5 M302,412.5 L303,414.5" stroke="#222" stroke-width="1.4" fill="none"/>
<path class="p" d="M270.8,444.6 L276.3,442.3 L284.1,443.1 L286.4,446.2 L286.4,463.4 L289.6,466.5 L299.7,468.8 L302.8,464.9 L306.0,455.6 L310.6,436.8 L315.3,427.5 L323.1,421.2 L337.2,415.0 L362.2,405.6 L371.5,403.3 L384.0,402.5 L452.0,401.9 L455.5,404.0 L456.5,411.0 L455.5,418.0 L452.0,419.8 L384.0,421.5 L368.4,423.6 L362.2,425.9 L337.2,435.3 L329.4,440.0 L324.7,449.3 L321.6,460.2 L318.4,471.2 L312.2,480.5 L302.8,485.2 L293.5,486.8 L284.1,483.7 L276.3,477.4 L271.6,468.0 L270.0,457.1 Z" stroke-width="1.2"/>
<path class="g" d="M271.5,457 Q280,458 286,462 M279,476 Q282,480 282,486 M288,467 Q287,478 289,486 M296,470 Q295,478 297,486 M271,466 Q278,468 286,470 M307,452 Q316,455 322,460 M305,462 Q312,466 319,470 M323,421 Q326,428 328,438 M315,428 Q322,433 326,442 M362,406 Q361,416 366,424 M421,402 Q418,411 421,420 M441,402 Q439,411 441,420"/>
<path class="p" d="M362.2,422.8 L379.3,421.2 L380.9,435.3 Q379,441.5 374,441.5 Q370,440 368.4,430.6 Z"/>
<circle cx="375.4" cy="435.3" r="2.4" fill="none" stroke="#333" stroke-width="1.2"/>
<ellipse cx="471.3" cy="406.6" rx="8" ry="9.2" fill="#fff" stroke="#222" stroke-width="1.8" transform="rotate(15 471.3 406.6)"/>
<ellipse cx="471.5" cy="406.6" rx="4" ry="5" fill="#bbb" stroke="#333" stroke-width="1" transform="rotate(15 471.5 406.6)"/>
<path d="M466,414 L472,418 M476,398 L480,396" stroke="#333" stroke-width="1.5"/>
<ellipse cx="486.5" cy="403" rx="4.8" ry="6.6" fill="#fff" stroke="#333" stroke-width="1.3" transform="rotate(10 486.5 403)"/>
<path class="p" d="M489,395 L508,391.4 L510,407 L491,410 Z"/>
<path class="g" d="M495,394 L496,409"/>
<path d="M507.8,392 L516,391.4 L517,403 L509,407 Z" fill="#2a2a2a"/>
<ellipse cx="521.5" cy="393.4" rx="5.8" ry="7.4" fill="#fff" stroke="#333" stroke-width="1.6" transform="rotate(15 521.5 393.4)"/>
<ellipse cx="521.5" cy="393.4" rx="3.2" ry="4.6" fill="none" stroke="#666" stroke-width="0.9" transform="rotate(15 521.5 393.4)"/>
<path d="M506.6,491.1 C505.0,492.6 499.3,496.5 497.0,500.0 C494.7,503.5 493.2,507.7 493.0,512.0 C492.8,516.3 490.7,516.6 495.5,526.0 C500.3,535.4 515.9,560.5 521.9,568.4 C527.9,576.2 524.2,573.5 531.2,573.1 C538.2,572.7 558.5,567.3 564.0,566.1" fill="none" stroke="#3a3a3a" stroke-width="7.6" stroke-linejoin="round" stroke-linecap="round"/>
<path d="M506.6,491.1 C505.0,492.6 499.3,496.5 497.0,500.0 C494.7,503.5 493.2,507.7 493.0,512.0 C492.8,516.3 490.7,516.6 495.5,526.0 C500.3,535.4 515.9,560.5 521.9,568.4 C527.9,576.2 524.2,573.5 531.2,573.1 C538.2,572.7 558.5,567.3 564.0,566.1" fill="none" stroke="#fff" stroke-width="5.0" stroke-linejoin="round" stroke-linecap="round"/>
<path class="g" d="M559,563 L561,570 M505,488 L510,494"/>
<line x1="695.7" y1="374.5" x2="700.9" y2="378.1" stroke="#333" stroke-width="5.2"/>
<line x1="695.7" y1="374.5" x2="700.9" y2="378.1" stroke="#fff" stroke-width="3.0"/>
<line x1="687.1" y1="368.8" x2="695.7" y2="374.5" stroke="#151515" stroke-width="5.0" stroke-linecap="round"/>
<ellipse cx="700.5" cy="377.8" rx="3.6" ry="4.8" fill="#d4d4d4" stroke="#2a2a2a" stroke-width="1.3" transform="rotate(34.1 700.5 377.8)"/>
<ellipse cx="702.4" cy="379.1" rx="2.2" ry="3.4" fill="#eee" stroke="#444" stroke-width="1" transform="rotate(34.1 702.4 379.1)"/>
<line x1="721.5" y1="404.2" x2="726.5" y2="407.5" stroke="#333" stroke-width="5.2"/>
<line x1="721.5" y1="404.2" x2="726.5" y2="407.5" stroke="#fff" stroke-width="3.0"/>
<line x1="713.4" y1="398.8" x2="721.5" y2="404.2" stroke="#151515" stroke-width="5.0" stroke-linecap="round"/>
<ellipse cx="726.1" cy="407.2" rx="3.6" ry="4.8" fill="#d4d4d4" stroke="#2a2a2a" stroke-width="1.3" transform="rotate(33.7 726.1 407.2)"/>
<ellipse cx="728.0" cy="408.5" rx="2.2" ry="3.4" fill="#eee" stroke="#444" stroke-width="1" transform="rotate(33.7 728.0 408.5)"/>
<line x1="730.5" y1="462.9" x2="735.2" y2="466.2" stroke="#333" stroke-width="5.2"/>
<line x1="730.5" y1="462.9" x2="735.2" y2="466.2" stroke="#fff" stroke-width="3.0"/>
<line x1="722.8" y1="457.5" x2="730.5" y2="462.9" stroke="#151515" stroke-width="5.0" stroke-linecap="round"/>
<ellipse cx="734.8" cy="466.0" rx="3.6" ry="4.8" fill="#d4d4d4" stroke="#2a2a2a" stroke-width="1.3" transform="rotate(35.0 734.8 466.0)"/>
<ellipse cx="736.7" cy="467.3" rx="2.2" ry="3.4" fill="#eee" stroke="#444" stroke-width="1" transform="rotate(35.0 736.7 467.3)"/>
<line x1="678.7" y1="480.8" x2="684.0" y2="484.0" stroke="#333" stroke-width="5.2"/>
<line x1="678.7" y1="480.8" x2="684.0" y2="484.0" stroke="#fff" stroke-width="3.0"/>
<line x1="670.0" y1="475.5" x2="678.7" y2="480.8" stroke="#151515" stroke-width="5.0" stroke-linecap="round"/>
<ellipse cx="683.6" cy="483.7" rx="3.6" ry="4.8" fill="#d4d4d4" stroke="#2a2a2a" stroke-width="1.3" transform="rotate(31.3 683.6 483.7)"/>
<ellipse cx="685.5" cy="484.9" rx="2.2" ry="3.4" fill="#eee" stroke="#444" stroke-width="1" transform="rotate(31.3 685.5 484.9)"/>
<line x1="658.3" y1="507.8" x2="663.7" y2="511.4" stroke="#333" stroke-width="5.2"/>
<line x1="658.3" y1="507.8" x2="663.7" y2="511.4" stroke="#fff" stroke-width="3.0"/>
<line x1="649.6" y1="502.0" x2="658.3" y2="507.8" stroke="#151515" stroke-width="5.0" stroke-linecap="round"/>
<ellipse cx="663.3" cy="511.1" rx="3.6" ry="4.8" fill="#d4d4d4" stroke="#2a2a2a" stroke-width="1.3" transform="rotate(33.7 663.3 511.1)"/>
<ellipse cx="665.2" cy="512.4" rx="2.2" ry="3.4" fill="#eee" stroke="#444" stroke-width="1" transform="rotate(33.7 665.2 512.4)"/>
<line x1="601.3" y1="533.1" x2="606.7" y2="536.4" stroke="#333" stroke-width="5.2"/>
<line x1="601.3" y1="533.1" x2="606.7" y2="536.4" stroke="#fff" stroke-width="3.0"/>
<line x1="592.6" y1="527.8" x2="601.3" y2="533.1" stroke="#151515" stroke-width="5.0" stroke-linecap="round"/>
<ellipse cx="606.3" cy="536.1" rx="3.6" ry="4.8" fill="#d4d4d4" stroke="#2a2a2a" stroke-width="1.3" transform="rotate(31.4 606.3 536.1)"/>
<ellipse cx="608.2" cy="537.3" rx="2.2" ry="3.4" fill="#eee" stroke="#444" stroke-width="1" transform="rotate(31.4 608.2 537.3)"/>
<line x1="639.1" y1="550.8" x2="644.2" y2="554.4" stroke="#333" stroke-width="5.2"/>
<line x1="639.1" y1="550.8" x2="644.2" y2="554.4" stroke="#fff" stroke-width="3.0"/>
<line x1="630.9" y1="545.0" x2="639.1" y2="550.8" stroke="#151515" stroke-width="5.0" stroke-linecap="round"/>
<ellipse cx="643.8" cy="554.1" rx="3.6" ry="4.8" fill="#d4d4d4" stroke="#2a2a2a" stroke-width="1.3" transform="rotate(35.3 643.8 554.1)"/>
<ellipse cx="645.7" cy="555.4" rx="2.2" ry="3.4" fill="#eee" stroke="#444" stroke-width="1" transform="rotate(35.3 645.7 555.4)"/>
<ellipse cx="686.75" cy="507.5" rx="12.5" ry="17.5" fill="none" stroke="#333" stroke-width="1.3" transform="rotate(20 686.75 507.5)"/>
<ellipse cx="686.75" cy="507.5" rx="9.5" ry="14.5" fill="none" stroke="#555" stroke-width="1" transform="rotate(20 686.75 507.5)"/>
<ellipse cx="720.5" cy="532" rx="15" ry="20" fill="#fff" stroke="#444" stroke-width="1.2" transform="rotate(15 720.5 532)"/>
<ellipse cx="722.75" cy="531.25" rx="15" ry="20" fill="#fff" stroke="#333" stroke-width="1.2" transform="rotate(15 722.75 531.25)"/>
<ellipse cx="724" cy="532.5" rx="3" ry="3.5" class="q"/>
<path class="p" d="M617,541 Q620,536 626,537 L628,553 L630,562 Q627,567 619,566 L616,558 Z"/>
<circle cx="622.5" cy="544" r="1.8" class="q"/>
<line class="l" x1="291.5" y1="91" x2="293" y2="125"/>
<line class="l" x1="442.5" y1="56" x2="466" y2="177"/>
<line class="l" x1="503" y1="55" x2="499" y2="169"/>
<line class="l" x1="559" y1="26" x2="569" y2="74"/>
<line class="l" x1="686.75" y1="88.75" x2="591.75" y2="191.25"/>
<line class="l" x1="732" y1="115.5" x2="698" y2="196"/>
<line class="l" x1="764.5" y1="144.5" x2="722.75" y2="221.25"/>
<line class="l" x1="348.25" y1="256.25" x2="379.5" y2="272.5"/>
<line class="l" x1="348.25" y1="256.25" x2="354.5" y2="290"/>
<line class="l" x1="348.25" y1="256.25" x2="344.5" y2="302.5"/>
<line class="l" x1="478" y1="241.25" x2="520.5" y2="260"/>
<line class="l" x1="473" y1="281.25" x2="489.25" y2="308.75"/>
<line class="l" x1="473" y1="281.25" x2="514.25" y2="300"/>
<line class="l" x1="569.25" y1="267.5" x2="559.25" y2="287.5"/>
<line class="l" x1="613" y1="258.75" x2="617.5" y2="292.5"/>
<line class="l" x1="636.75" y1="218.75" x2="649.25" y2="287.5"/>
<line class="l" x1="493" y1="341.25" x2="510.5" y2="331.25"/>
<line class="l" x1="506.75" y1="366.25" x2="501.75" y2="350"/>
<line class="l" x1="506.75" y1="366.25" x2="475.5" y2="376.25"/>
<line class="l" x1="570" y1="320" x2="572.5" y2="316"/>
<line class="l" x1="777" y1="342" x2="687" y2="361.8"/>
<line class="l" x1="777" y1="342" x2="703.3" y2="378.2"/>
<line class="l" x1="777" y1="342" x2="640" y2="445"/>
<line class="l" x1="777" y1="342" x2="729.6" y2="405.5"/>
<line class="l" x1="777" y1="342" x2="683" y2="482"/>
<line class="l" x1="777" y1="342" x2="739.4" y2="462.3"/>
<line class="l" x1="792.75" y1="427" x2="678.2" y2="410"/>
<line class="l" x1="313.25" y1="368.75" x2="383.25" y2="352.5"/>
<line class="l" x1="359.5" y1="385" x2="339.5" y2="402.5"/>
<line class="l" x1="269.5" y1="400" x2="292" y2="403.75"/>
<line class="l" x1="243.25" y1="450" x2="270.75" y2="449.25"/>
<line class="l" x1="370.75" y1="440" x2="359.5" y2="480"/>
<line class="l" x1="413.7" y1="448" x2="465.2" y2="413.8"/>
<line class="l" x1="449" y1="453.3" x2="480.7" y2="410.3"/>
<line class="l" x1="482.4" y1="456.7" x2="521.9" y2="404.3"/>
<line class="l" x1="509" y1="460" x2="530.5" y2="437"/>
<line class="l" x1="427" y1="546.25" x2="493" y2="523.75"/>
<line class="l" x1="560.5" y1="531.25" x2="614" y2="490"/>
<line class="l" x1="669.25" y1="536.25" x2="665.5" y2="515"/>
<line class="l" x1="669.25" y1="536.25" x2="648" y2="552.5"/>
<line class="l" x1="669.25" y1="536.25" x2="609" y2="533"/>
<line class="l" x1="618" y1="566.25" x2="606.75" y2="611.25"/>
<line class="l" x1="792.75" y1="506.25" x2="699" y2="496"/>
<line class="l" x1="725.25" y1="536.25" x2="747.75" y2="570"/>
<line class="d" x1="580" y1="171" x2="583" y2="183"/>
<line class="d" x1="584" y1="217.5" x2="597.5" y2="335"/>
<line class="d" x1="543" y1="222.5" x2="556" y2="355"/>
<line class="d" x1="617" y1="299" x2="597.5" y2="341"/>
<line class="d" x1="591" y1="318" x2="611.5" y2="334"/>
<line class="d" x1="653.75" y1="297.5" x2="639.7" y2="343"/>
<line class="d" x1="675.6" y1="260" x2="647.5" y2="348"/>
<line class="d" x1="670.5" y1="262" x2="652" y2="297"/>
<line class="d" x1="688" y1="219" x2="676" y2="262"/>
<line class="d" x1="401" y1="287" x2="415" y2="296"/>
<line class="d" x1="374" y1="304" x2="392" y2="315"/>
<line class="d" x1="365" y1="317" x2="386" y2="330"/>
<line class="d" x1="498" y1="315" x2="520" y2="325"/>
<line class="d" x1="525" y1="307.5" x2="540" y2="318"/>
<line class="d" x1="505.5" y1="352.5" x2="545.5" y2="380"/>
<line class="d" x1="475.5" y1="380" x2="498" y2="392.5"/>
<line class="d" x1="297" y1="413.75" x2="282" y2="442.5"/>
<line class="d" x1="509.25" y1="487.5" x2="540" y2="466"/>
<line class="d" x1="687" y1="382.6" x2="713.2" y2="397.9"/>
<line class="d" x1="676" y1="432.8" x2="720.8" y2="455.8"/>
<line class="d" x1="659.7" y1="468.9" x2="671" y2="476.5"/>
<line class="d" x1="631" y1="470" x2="709" y2="523"/>
<line class="d" x1="610" y1="520" x2="592.6" y2="527.8"/>
<line class="d" x1="640" y1="540" x2="630.9" y2="545"/>
<line class="d" x1="655" y1="495" x2="649.6" y2="502"/>
<line class="d" x1="468" y1="395" x2="466" y2="380"/>
<line class="d" x1="340" y1="411" x2="352" y2="416"/>
<text class="t" transform="translate(286.5 85) scale(0.84 1)" x="0" y="0">1</text>
<text class="t" transform="translate(437.25 44) scale(0.84 1)" x="0" y="0">8</text>
<text class="t" transform="translate(500.75 48.75) scale(0.84 1)" x="0" y="0">9</text>
<text class="t" transform="translate(551.75 18.75) scale(0.84 1)" x="0" y="0">10</text>
<text class="t" transform="translate(691 82) scale(0.84 1)" x="0" y="0">11</text>
<text class="t" transform="translate(733.5 112) scale(0.84 1)" x="0" y="0">17</text>
<text class="t" transform="translate(765 139.5) scale(0.84 1)" x="0" y="0">18</text>
<text class="t" transform="translate(343.5 248.5) scale(0.84 1)" x="0" y="0">2</text>
<text class="t" transform="translate(467 241) scale(0.84 1)" x="0" y="0">8</text>
<text class="t" transform="translate(465.75 277.5) scale(0.84 1)" x="0" y="0">6</text>
<text class="t" transform="translate(569.25 265) scale(0.84 1)" x="0" y="0">15</text>
<text class="t" transform="translate(606.5 253.5) scale(0.84 1)" x="0" y="0">27</text>
<text class="t" transform="translate(627.5 213.5) scale(0.84 1)" x="0" y="0">19</text>
<text class="t" transform="translate(561.75 339.5) scale(0.84 1)" x="0" y="0">16</text>
<text class="t" transform="translate(478 351) scale(0.84 1)" x="0" y="0">14</text>
<text class="t" transform="translate(503 381) scale(0.84 1)" x="0" y="0">12</text>
<text class="t" transform="translate(783 335.2) scale(0.84 1)" x="0" y="0">21</text>
<text class="t" transform="translate(798.5 433) scale(0.84 1)" x="0" y="0">25</text>
<text class="t" transform="translate(298.5 376) scale(0.84 1)" x="0" y="0">3</text>
<text class="t" transform="translate(364 383.5) scale(0.84 1)" x="0" y="0">6</text>
<text class="t" transform="translate(255 404) scale(0.84 1)" x="0" y="0">4</text>
<text class="t" transform="translate(232.25 455) scale(0.84 1)" x="0" y="0">5</text>
<text class="t" transform="translate(404.75 456) scale(0.84 1)" x="0" y="0">4</text>
<text class="t" transform="translate(434.5 467) scale(0.84 1)" x="0" y="0">13</text>
<text class="t" transform="translate(467.5 472) scale(0.84 1)" x="0" y="0">28</text>
<text class="t" transform="translate(496.5 476) scale(0.84 1)" x="0" y="0">26</text>
<text class="t" transform="translate(352.5 498.5) scale(0.84 1)" x="0" y="0">7</text>
<text class="t" transform="translate(407.5 556) scale(0.84 1)" x="0" y="0">20</text>
<text class="t" transform="translate(541 543.5) scale(0.84 1)" x="0" y="0">25</text>
<text class="t" transform="translate(673.5 545) scale(0.84 1)" x="0" y="0">21</text>
<text class="t" transform="translate(598 631) scale(0.84 1)" x="0" y="0">22</text>
<text class="t" transform="translate(798.5 510) scale(0.84 1)" x="0" y="0">24</text>
<text class="t" transform="translate(749.5 582) scale(0.84 1)" x="0" y="0">23</text>
</svg>
</body></html>
